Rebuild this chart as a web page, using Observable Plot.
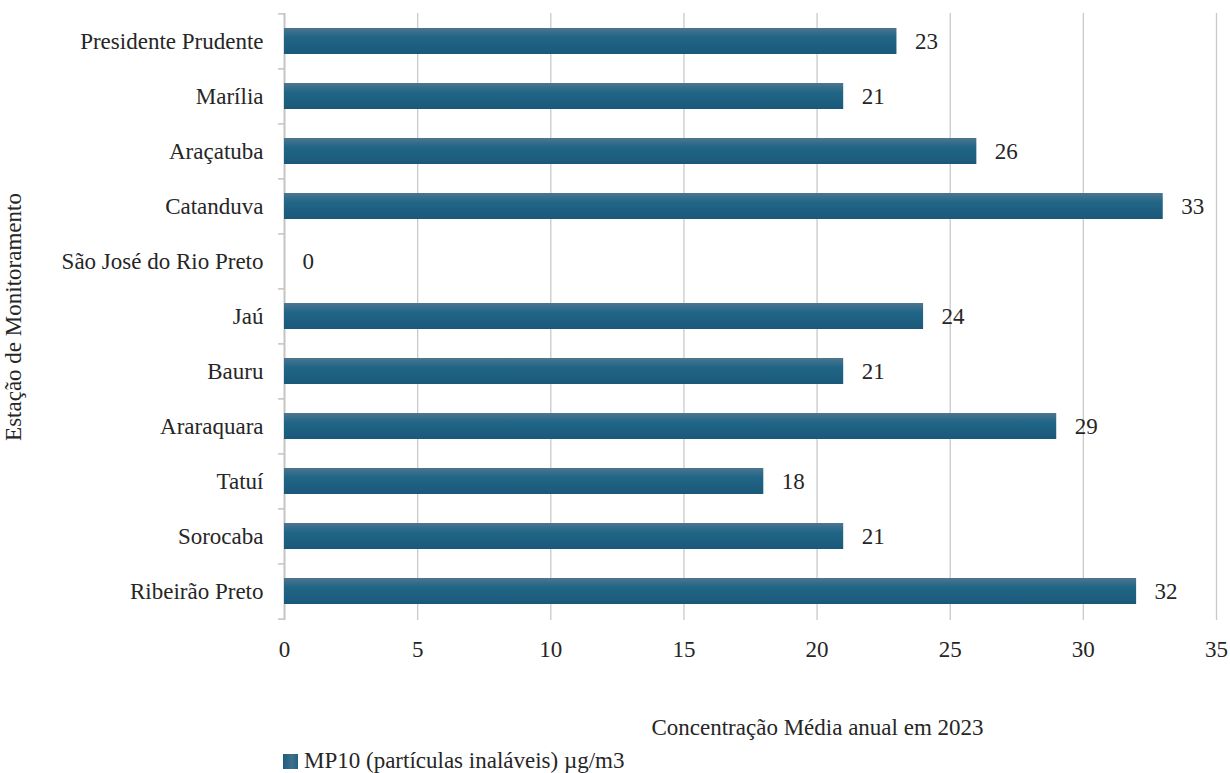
<!DOCTYPE html>
<html>
<head>
<meta charset="utf-8">
<script src="https://cdn.jsdelivr.net/npm/d3@7"></script>
<script src="https://cdn.jsdelivr.net/npm/@observablehq/plot@0.6"></script>
<style>
  body { margin: 0; background: #fff; }
  #legend { display: flex; align-items: center; margin-left: 283px; margin-top: 3px;
    font-family: "Liberation Serif", serif; font-size: 23px; color: #262626; }
  #legend .sw { width: 15px; height: 15px; margin-right: 6px;
    background: linear-gradient(to right, #1c5d7d, #3f6f8c 60%, #1f6383); }
</style>
</head>
<body>
<div id="chart"></div>
<div id="legend"><span class="sw"></span><span id="legtext"></span></div>
<script>
const stations = ["Presidente Prudente", "Marília", "Araçatuba", "Catanduva", "São José do Rio Preto", "Jaú", "Bauru", "Araraquara", "Tatuí", "Sorocaba", "Ribeirão Preto"];
const values = [23, 21, 26, 33, 0, 24, 21, 29, 18, 21, 32];
const xTicks = [0, 5, 10, 15, 20, 25, 30, 35];
const seriesName = "MP10 (partículas inaláveis) µg/m3";
const xTitle = "Concentração Média anual em 2023";
const yTitle = "Estação de Monitoramento";

const data = stations.map((s, i) => ({station: s, value: values[i]}));
const W = 1230, H = 745, mt = 13, mb = 125;
const band = (H - mt - mb) / stations.length;
const font = "'Liberation Serif', serif";

const chart = Plot.plot({
  width: W, height: H,
  marginTop: mt, marginBottom: mb, marginLeft: 284, marginRight: 14,
  style: {fontFamily: font, fontSize: "23px", color: "#262626", background: "white"},
  x: {domain: [0, 35], ticks: xTicks},
  y: {domain: stations, paddingInner: 0.52, paddingOuter: 0.26},
  marks: [
    Plot.gridX(xTicks.slice(1), {stroke: "#c9c9c9", strokeOpacity: 1, strokeWidth: 1.3}),
    Plot.ruleX([0], {stroke: "#c4c4c4", strokeWidth: 2}),
    Plot.ruleY(stations, {y: d => d, x1: 0, x2: 0, dy: -band / 2, stroke: "#c4c4c4", strokeWidth: 1.5, insetLeft: -6}),
    Plot.ruleY([stations[stations.length - 1]], {y: d => d, x1: 0, x2: 0, dy: band / 2, stroke: "#c4c4c4", strokeWidth: 1.5, insetLeft: -6}),
    Plot.barX(data, {x: "value", y: "station", fill: "url(#barGrad)"}),
    Plot.text(data, {x: "value", y: "station", text: d => String(d.value), textAnchor: "start", dx: 18, fill: "#262626"}),
    Plot.text([xTitle], {text: d => d, frameAnchor: "bottom", dx: 67, dy: 114, fill: "#262626"}),
    Plot.axisX({ticks: xTicks, tickSize: 0, tickPadding: 20, label: null}),
    Plot.axisY({tickSize: 0, tickPadding: 21, label: yTitle, labelAnchor: "center", labelOffset: 280, labelArrow: "none"})
  ]
});

// gradient definition for bars
const svgNS = "http://www.w3.org/2000/svg";
const defs = document.createElementNS(svgNS, "defs");
defs.innerHTML = `<linearGradient id="barGrad" x1="0" y1="0" x2="0" y2="1">
  <stop offset="0" stop-color="#4d7590"/>
  <stop offset="0.35" stop-color="#216686"/>
  <stop offset="1" stop-color="#1a587a"/>
</linearGradient>`;
chart.insertBefore(defs, chart.firstChild);
document.getElementById("chart").appendChild(chart);
document.getElementById("legtext").textContent = seriesName;
</script>
</body>
</html>
